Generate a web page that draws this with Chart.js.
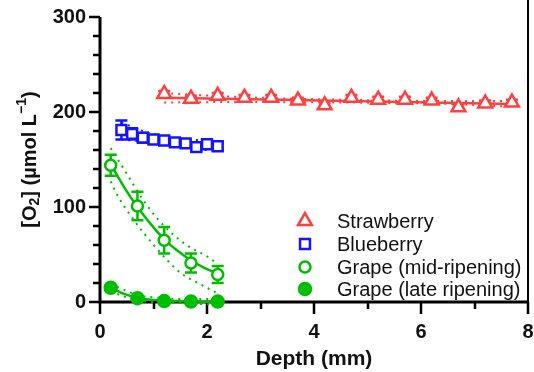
<!DOCTYPE html>
<html>
<head>
<meta charset="utf-8">
<script src="https://cdn.jsdelivr.net/npm/chart.js@4.4.1/dist/chart.umd.min.js"></script>
<style>
  html, body { margin: 0; padding: 0; background: #fff; }
  #wrap { width: 534px; height: 372px; }
</style>
</head>
<body>
<div id="wrap"><canvas id="o2Chart" width="534" height="372"></canvas></div>
<script>
// O2 concentration vs. depth in fruit tissue

var RED = '#ff4040', BLUE = '#1414ff', GREEN = '#00bd00';

var strawDepth = [1.2, 1.7, 2.2, 2.7, 3.2, 3.7, 4.2, 4.7, 5.2, 5.7, 6.2, 6.7, 7.2, 7.7];
var strawO2    = [219, 214, 217, 215, 215, 212, 207, 215, 213, 213, 212, 205, 209, 210];
var strawErr   = [3, 3, 3, 3, 3, 3, 3, 3, 3, 3, 3, 3, 3, 3];

var blueDepth = [0.4, 0.6, 0.8, 1.0, 1.2, 1.4, 1.6, 1.8, 2.0, 2.2];
var blueO2    = [181, 177, 173, 171, 170, 168, 167, 163, 166, 164];
var blueErr   = [10, 6, 5, 4, 4, 4, 4, 4, 4, 4];

var grapeMidDepth = [0.2, 0.7, 1.2, 1.7, 2.2];
var grapeMidO2    = [144, 101, 65, 41, 29];
var grapeMidErr   = [11, 15, 14, 10, 9];

var grapeLateDepth = [0.2, 0.7, 1.2, 1.7, 2.2];
var grapeLateO2    = [15, 4, 1, 0.5, 0.5];

// fitted curves and their confidence bands
var strawFitDepth  = [1.2, 7.7];
var strawFit       = [215, 208.5];
var strawBandDepth = [1.2, 2.5, 4.5, 6.5, 7.7];
var strawUpper     = [220, 216, 213, 211.5, 211.5];
var strawLower     = [210, 210.5, 210, 208.5, 205.5];

var blueFitDepth = [0.4, 0.8, 1.2, 1.6, 2.0, 2.2];
var blueFit      = [180, 174.5, 170.5, 167.5, 165, 164];
var blueUpper    = [189, 180, 174.5, 171.5, 170, 169.5];
var blueLower    = [171, 169, 166.5, 163.5, 160, 158.5];

var midFitDepth   = [0.2, 0.45, 0.7, 0.95, 1.2, 1.45, 1.7, 1.95, 2.2];
var midFit        = [145, 121, 100, 82, 66, 54, 44, 36, 30];
var midUpperDepth = [0.2, 0.5, 0.8, 1.1, 1.45, 1.7, 2.0, 2.2];
var midUpper      = [162, 135, 108, 86, 67, 57, 48, 40];
var midLowerDepth = [0.2, 0.3, 0.65, 1.05, 1.5, 1.9, 2.2];
var midLower      = [127, 115, 85, 57, 31, 18, 9];

var lateFitDepth  = [0.2, 0.45, 0.7, 0.95, 1.2, 1.7, 2.2];
var lateFit       = [15, 8.5, 4.5, 2.5, 1.5, 0.6, 0.3];
var lateBandDepth = [0.2, 0.7, 1.2, 1.7, 2.2];
var lateUpper     = [19, 7.5, 4, 3, 3.5];
var lateLower     = [11, 1.5, -0.5, -1.5, -3];

var legendNames = ['Strawberry', 'Blueberry', 'Grape (mid-ripening)', 'Grape (late ripening)'];

function pts(xs, ys) {
  return xs.map(function(x, i) { return { x: x, y: ys[i] }; });
}

function marker(label, xs, ys, errs, color, style, radius, filled) {
  return {
    label: label, data: pts(xs, ys), errs: errs, isMarker: true,
    showLine: false, pointStyle: style, pointRadius: radius, pointHoverRadius: radius,
    borderColor: color, backgroundColor: filled ? color : '#fff',
    pointBorderWidth: 2.5, clip: false, order: 0
  };
}

function curve(xs, ys, color, dotted) {
  return {
    data: pts(xs, ys), showLine: true, pointRadius: 0, pointHoverRadius: 0,
    borderColor: color, borderWidth: dotted ? 2 : 2.5,
    borderDash: dotted ? [2, 5] : [], cubicInterpolationMode: 'monotone',
    clip: false, order: 1
  };
}

var datasets = [
  marker(legendNames[0], strawDepth, strawO2, strawErr, RED, 'triangle', 8, false),
  marker(legendNames[1], blueDepth, blueO2, blueErr, BLUE, 'rect', 7, false),
  marker(legendNames[2], grapeMidDepth, grapeMidO2, grapeMidErr, GREEN, 'circle', 5.5, false),
  marker(legendNames[3], grapeLateDepth, grapeLateO2, null, GREEN, 'circle', 6, true),
  curve(strawFitDepth, strawFit, RED, false),
  curve(strawBandDepth, strawUpper, RED, true),
  curve(strawBandDepth, strawLower, RED, true),
  curve(blueFitDepth, blueFit, BLUE, false),
  curve(blueFitDepth, blueUpper, BLUE, true),
  curve(blueFitDepth, blueLower, BLUE, true),
  curve(midFitDepth, midFit, GREEN, false),
  curve(midUpperDepth, midUpper, GREEN, true),
  curve(midLowerDepth, midLower, GREEN, true),
  curve(lateFitDepth, lateFit, GREEN, false),
  curve(lateBandDepth, lateUpper, GREEN, true),
  curve(lateBandDepth, lateLower, GREEN, true)
];

// axis lines, major/minor ticks and error bars (under the symbols)
var axesPlugin = {
  id: 'axesPlugin',
  beforeDatasetsDraw: function(chart) {
    var ctx = chart.ctx, a = chart.chartArea;
    var xs = chart.scales.x, ys = chart.scales.y;
    ctx.save();
    ctx.strokeStyle = '#000';
    ctx.lineWidth = 3;
    ctx.beginPath();
    ctx.moveTo(a.left, a.top); ctx.lineTo(a.left, a.bottom + 1.5);
    ctx.moveTo(a.left - 1.5, a.bottom); ctx.lineTo(a.right + 1, a.bottom);
    ctx.stroke();
    ctx.lineWidth = 2;
    ctx.beginPath();
    ctx.moveTo(a.right, 0); ctx.lineTo(a.right, a.bottom);
    ctx.stroke();

    ctx.lineWidth = 2.5;
    ctx.beginPath();
    for (var v = 0; v <= 300; v += 20) {
      var py = Math.round(ys.getPixelForValue(v));
      var len = (v % 100 === 0) ? 11 : 7;
      ctx.moveTo(a.left, py); ctx.lineTo(a.left - len, py);
    }
    for (var d = 0; d <= 8; d += 1) {
      var px = Math.round(xs.getPixelForValue(d));
      var l2 = (d % 2 === 0) ? 12 : 7;
      ctx.moveTo(px, a.bottom); ctx.lineTo(px, a.bottom + l2);
    }
    ctx.stroke();

    chart.data.datasets.forEach(function(ds) {
      if (!ds.errs) return;
      ctx.strokeStyle = ds.borderColor;
      ctx.lineWidth = 2.5;
      ctx.beginPath();
      ds.data.forEach(function(p, i) {
        var x = xs.getPixelForValue(p.x);
        var y1 = ys.getPixelForValue(p.y + ds.errs[i]);
        var y2 = ys.getPixelForValue(p.y - ds.errs[i]);
        ctx.moveTo(x, y1); ctx.lineTo(x, y2);
        ctx.moveTo(x - 6, y1); ctx.lineTo(x + 6, y1);
        ctx.moveTo(x - 6, y2); ctx.lineTo(x + 6, y2);
      });
      ctx.stroke();
    });
    ctx.restore();
  }
};

// y title with subscript / superscript, and the in-plot legend
var textPlugin = {
  id: 'textPlugin',
  afterDraw: function(chart) {
    var ctx = chart.ctx, a = chart.chartArea;
    var fam = '"Liberation Sans", Arial, sans-serif';
    var parts = [
      { t: '[O', f: 'bold 20px ' + fam, dy: 0 },
      { t: '2', f: 'bold 14px ' + fam, dy: 5 },
      { t: '] (\u00b5mol L', f: 'bold 20px ' + fam, dy: 0 },
      { t: '\u22121', f: 'bold 14px ' + fam, dy: -8 },
      { t: ')', f: 'bold 20px ' + fam, dy: 0 }
    ];
    ctx.save();
    ctx.fillStyle = '#111';
    ctx.textBaseline = 'middle';
    var total = 0;
    parts.forEach(function(p) { ctx.font = p.f; p.w = ctx.measureText(p.t).width; total += p.w; });
    ctx.translate(30, (a.top + a.bottom) / 2);
    ctx.rotate(-Math.PI / 2);
    var cx = -total / 2;
    parts.forEach(function(p) {
      ctx.font = p.f;
      ctx.fillText(p.t, cx, p.dy);
      cx += p.w;
    });
    ctx.restore();

    ctx.save();
    var rowY = [221, 244, 267, 289];
    var markers = chart.data.datasets.filter(function(ds) { return ds.isMarker; });
    markers.forEach(function(ds, i) {
      ctx.strokeStyle = ds.borderColor;
      ctx.fillStyle = ds.backgroundColor;
      ctx.lineWidth = 2.5;
      Chart.helpers.drawPoint(ctx, { pointStyle: ds.pointStyle, radius: ds.pointRadius, rotation: 0, borderWidth: 2.5 }, 305, rowY[i]);
      ctx.fillStyle = '#111';
      ctx.font = '20px ' + fam;
      ctx.textBaseline = 'middle';
      ctx.textAlign = 'left';
      ctx.fillText(ds.label, 337, rowY[i] + 1);
    });
    ctx.restore();
  }
};

function noPad(s) {
  s.paddingTop = 0; s.paddingBottom = 0; s.paddingLeft = 0; s.paddingRight = 0;
}

Chart.defaults.font.family = '"Liberation Sans", Arial, sans-serif';
Chart.defaults.color = '#111';

var ctx = document.getElementById('o2Chart').getContext('2d');
var myChart = new Chart(ctx, {
  type: 'scatter',
  data: { datasets: datasets },
  options: {
    responsive: false,
    animation: false,
    devicePixelRatio: 1,
    layout: { autoPadding: false, padding: { top: 17, right: 6, left: 0, bottom: 0 } },
    plugins: { legend: { display: false }, tooltip: { enabled: false } },
    scales: {
      x: {
        type: 'linear', min: 0, max: 8,
        grid: { display: false, drawTicks: false },
        border: { display: false },
        ticks: { stepSize: 2, padding: 18, font: { size: 20, weight: 'bold' }, color: '#111' },
        title: { display: true, text: 'Depth (mm)', font: { size: 21, weight: 'bold' }, color: '#111', padding: 0 },
        afterFit: function(s) { s.height = 70; noPad(s); }
      },
      y: {
        type: 'linear', min: 0, max: 300,
        grid: { display: false, drawTicks: false },
        border: { display: false },
        ticks: { stepSize: 100, padding: 14, font: { size: 20, weight: 'bold' }, color: '#111' },
        afterFit: function(s) { s.width = 100; noPad(s); }
      }
    }
  },
  plugins: [axesPlugin, textPlugin]
});
</script>
</body>
</html>
